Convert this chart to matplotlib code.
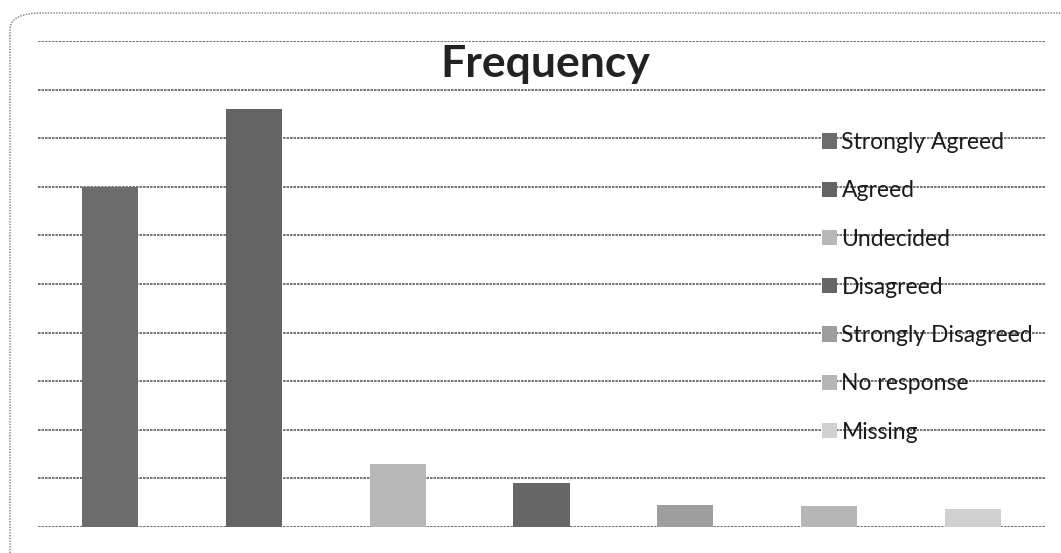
import matplotlib
matplotlib.use("Agg")
import matplotlib.pyplot as plt
from matplotlib.patches import FancyBboxPatch

categories = ["Strongly Agreed", "Agreed", "Undecided", "Disagreed",
              "Strongly Disagreed", "No response", "Missing"]
frequency = [70, 86, 13, 9, 4.5, 4.4, 3.7]
bar_colors = ["#6c6c6c", "#646464", "#b8b8b8", "#666666",
              "#9e9e9e", "#b6b6b6", "#d0d0d0"]

plt.rcParams['font.family'] = ['Lato', 'DejaVu Sans']

fig = plt.figure(figsize=(10.61, 5.53), dpi=100)
ax = fig.add_axes([38 / 1061, 1 - 527 / 553, (1045 - 38) / 1061, (527 - 41) / 553])

for i, (cat, val) in enumerate(zip(categories, frequency)):
    ax.bar(i, val, width=0.39, color=bar_colors[i], label=cat, zorder=3)

ax.set_xlim(-0.5, 6.5)
ax.set_ylim(0, 100)
ax.set_yticks(range(0, 101, 10))
ax.grid(axis='y', color='#5e5e5e', linewidth=1.2, linestyle=(0, (1.5, 0.6)), zorder=0)
ax.tick_params(left=False, bottom=False, labelleft=False, labelbottom=False)
for s in ax.spines.values():
    s.set_visible(False)
ax.set_facecolor('none')

fig.text(545 / 1061, 1 - 77 / 553, "Frequency", ha='center', va='baseline',
         fontsize=32, fontweight='bold', color='#222222')

leg = ax.legend(loc='upper left', bbox_to_anchor=(822 / 1061, 1 - 132 / 553),
                bbox_transform=fig.transFigure, frameon=False, fontsize=16.5,
                handlelength=0.65, handleheight=0.65, handletextpad=0.2,
                labelspacing=1.19, borderpad=0, borderaxespad=0)
for t in leg.get_texts():
    t.set_color('#1a1a1a')

# rounded chart border (runs off the right and bottom edges)
border = FancyBboxPatch((10 / 1061, -20 / 553), 1080 / 1061, (553 - 13 + 20) / 553,
                        boxstyle="round,pad=0,rounding_size=0.03",
                        transform=fig.transFigure, fill=False,
                        edgecolor='#7a7a7a', linewidth=1.0, linestyle=(0, (1, 1)))
fig.patches.append(border)

fig.savefig("out.png", dpi=100)
